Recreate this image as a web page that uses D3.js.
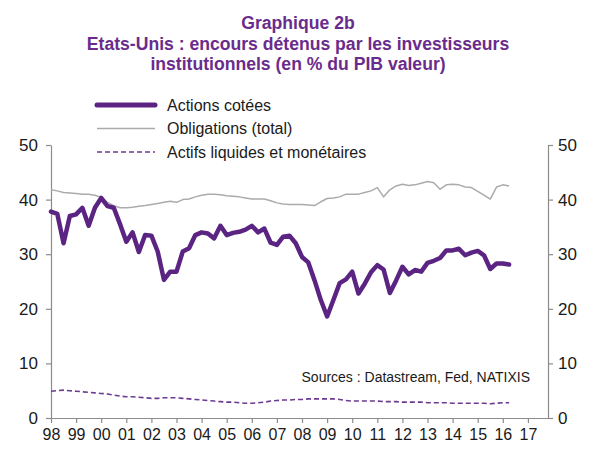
<!DOCTYPE html>
<html>
<head>
<meta charset="utf-8">
<script src="https://cdn.jsdelivr.net/npm/d3@7"></script>
<style>
  html, body { margin: 0; padding: 0; background: #fff; }
  svg text { font-family: "Liberation Sans", Arial, sans-serif; }
</style>
</head>
<body>
<svg id="chart" width="591" height="450"></svg>
<script>
// Quarterly series, 1998 Q1 to 2016 Q2, in % of nominal GDP
const startYear = 1998;
const actions = [
  37.8, 37.4, 32.0, 37.0, 37.3, 38.5, 35.2, 38.5,
  40.3, 38.8, 38.5, 35.5, 32.3, 34.0, 30.4, 33.5,
  33.4, 30.5, 25.3, 26.8, 26.8, 30.5, 31.1, 33.5,
  34.0, 33.8, 32.9, 35.2, 33.5, 33.9, 34.1, 34.5,
  35.2, 34.0, 34.7, 32.1, 31.7, 33.2, 33.4, 32.0,
  29.5, 28.5, 25.2, 21.6, 18.6, 21.6, 24.7, 25.4,
  26.8, 22.8, 24.6, 26.7, 28.0, 27.2, 22.9, 25.2,
  27.7, 26.3, 27.1, 26.8, 28.4, 28.8, 29.3, 30.7,
  30.7, 31.0, 29.8, 30.3, 30.6, 29.8, 27.3, 28.3,
  28.3, 28.1
];
const obligations = [
  41.8, 41.6, 41.3, 41.2, 41.1, 41.0, 41.0, 40.8,
  40.4, 39.5, 38.9, 38.5, 38.5, 38.6, 38.8, 38.9,
  39.1, 39.3, 39.5, 39.7, 39.5, 40.0, 40.1, 40.5,
  40.8, 41.0, 41.0, 40.9, 40.7, 40.6, 40.5, 40.3,
  40.1, 40.1, 40.1, 39.8, 39.4, 39.2, 39.1, 39.1,
  39.1, 39.0, 38.9, 39.6, 40.2, 40.3, 40.5, 41.0,
  41.0, 41.0, 41.3, 41.6, 42.2, 40.5, 41.8, 42.5,
  42.8, 42.6, 42.7, 43.0, 43.3, 43.1, 41.9, 42.7,
  42.8, 42.7, 42.3, 42.2, 41.5, 40.8, 40.1, 42.3,
  42.7, 42.5
];
const liquides = [
  4.9, 5.0, 5.1, 5.0, 4.9, 4.8, 4.7, 4.6,
  4.5, 4.4, 4.2, 4.0, 3.9, 3.9, 3.8, 3.7,
  3.6, 3.6, 3.7, 3.7, 3.7, 3.6, 3.5, 3.4,
  3.3, 3.2, 3.1, 3.0, 2.9, 2.9, 2.8, 2.7,
  2.7, 2.8, 2.9, 3.1, 3.2, 3.3, 3.3, 3.4,
  3.4, 3.5, 3.5, 3.5, 3.5, 3.5, 3.4, 3.2,
  3.1, 3.1, 3.1, 3.1, 3.1, 3.0, 3.0, 3.0,
  2.9, 2.9, 2.9, 2.9, 2.8, 2.8, 2.8, 2.8,
  2.7, 2.7, 2.7, 2.7, 2.7, 2.7, 2.6, 2.7,
  2.8, 2.8
];
const xTickYears = d3.range(1998, 2018);
const yTicks = [0, 10, 20, 30, 40, 50];
const seriesNames = ["Actions cotées", "Obligations (total)", "Actifs liquides et monétaires"];
const titleLines = [
  "Graphique 2b",
  "Etats-Unis : encours détenus par les investisseurs",
  "institutionnels (en % du PIB valeur)"
];
const sourceText = "Sources : Datastream, Fed, NATIXIS";

const purple = "#5b2483";
const titleColor = "#6a2c8c";
const axisColor = "#8c8c8c";
const textColor = "#1a1a1a";

const svg = d3.select("#chart");
const plot = { left: 51, right: 548, top: 145, bottom: 418 };

const x = d3.scaleLinear().domain([1998, 2017.8]).range([plot.left, plot.right]);
const y = d3.scaleLinear().domain([0, 50]).range([plot.bottom, plot.top]);

// Title
svg.append("g").selectAll("text").data(titleLines).join("text")
  .attr("x", 298)
  .attr("y", (d, i) => 29 + i * 20.5)
  .attr("text-anchor", "middle")
  .attr("font-size", 17.6)
  .attr("font-weight", "bold")
  .attr("fill", titleColor)
  .text(d => d);

// Axes
const axisStyle = g => {
  g.select(".domain").attr("stroke", axisColor).attr("stroke-width", 1.2);
  g.selectAll(".tick line").attr("stroke", axisColor).attr("stroke-width", 1.2);
  g.selectAll(".tick text").attr("fill", textColor)
    .attr("font-family", "'Liberation Sans', Arial, sans-serif");
};

svg.append("g")
  .attr("transform", `translate(${plot.left},0)`)
  .call(d3.axisLeft(y).tickValues(yTicks).tickSize(5).tickSizeOuter(0).tickPadding(8))
  .call(axisStyle)
  .call(g => g.selectAll(".tick text").attr("font-size", 17));

svg.append("g")
  .attr("transform", `translate(${plot.right},0)`)
  .call(d3.axisRight(y).tickValues(yTicks).tickSize(5).tickSizeOuter(0).tickPadding(5))
  .call(axisStyle)
  .call(g => g.selectAll(".tick text").attr("font-size", 17));

svg.append("g")
  .attr("transform", `translate(0,${plot.bottom})`)
  .call(d3.axisBottom(x).tickValues(xTickYears).tickSize(5).tickSizeOuter(0).tickPadding(6)
    .tickFormat(d => String(d % 100).padStart(2, "0")))
  .call(axisStyle)
  .call(g => g.selectAll(".tick text").attr("font-size", 16));

// Series
const t = i => startYear + i / 4;
const line = d3.line().x((d, i) => x(t(i))).y(d => y(d));

svg.append("path").datum(liquides)
  .attr("d", line).attr("fill", "none")
  .attr("stroke", "#6b3a93").attr("stroke-width", 1.6)
  .attr("stroke-dasharray", "5,3");

svg.append("path").datum(obligations)
  .attr("d", line).attr("fill", "none")
  .attr("stroke", "#ababab").attr("stroke-width", 1.5)
  .attr("stroke-linejoin", "round");

svg.append("path").datum(actions)
  .attr("d", line).attr("fill", "none")
  .attr("stroke", purple).attr("stroke-width", 4.5)
  .attr("stroke-linejoin", "round").attr("stroke-linecap", "round");

// Legend
const legendStyles = [
  { stroke: purple, width: 5, dash: null, cap: "round" },
  { stroke: "#ababab", width: 1.5, dash: null, cap: "butt" },
  { stroke: "#6b3a93", width: 1.5, dash: "5,3", cap: "butt" }
];
const legend = svg.append("g").selectAll("g").data(seriesNames).join("g")
  .attr("transform", (d, i) => `translate(0,${105 + i * 23.5})`);
legend.append("line")
  .attr("x1", 97).attr("x2", 155).attr("y1", 0).attr("y2", 0)
  .attr("stroke", (d, i) => legendStyles[i].stroke)
  .attr("stroke-width", (d, i) => legendStyles[i].width)
  .attr("stroke-linecap", (d, i) => legendStyles[i].cap)
  .attr("stroke-dasharray", (d, i) => legendStyles[i].dash);
legend.append("text")
  .attr("x", 167).attr("y", 0).attr("dy", "0.35em")
  .attr("font-size", 16).attr("fill", textColor)
  .text(d => d);

// Source note
svg.append("text")
  .attr("x", 530).attr("y", 377).attr("dy", "0.35em")
  .attr("text-anchor", "end")
  .attr("font-size", 14).attr("fill", textColor)
  .text(sourceText);
</script>
</body>
</html>
